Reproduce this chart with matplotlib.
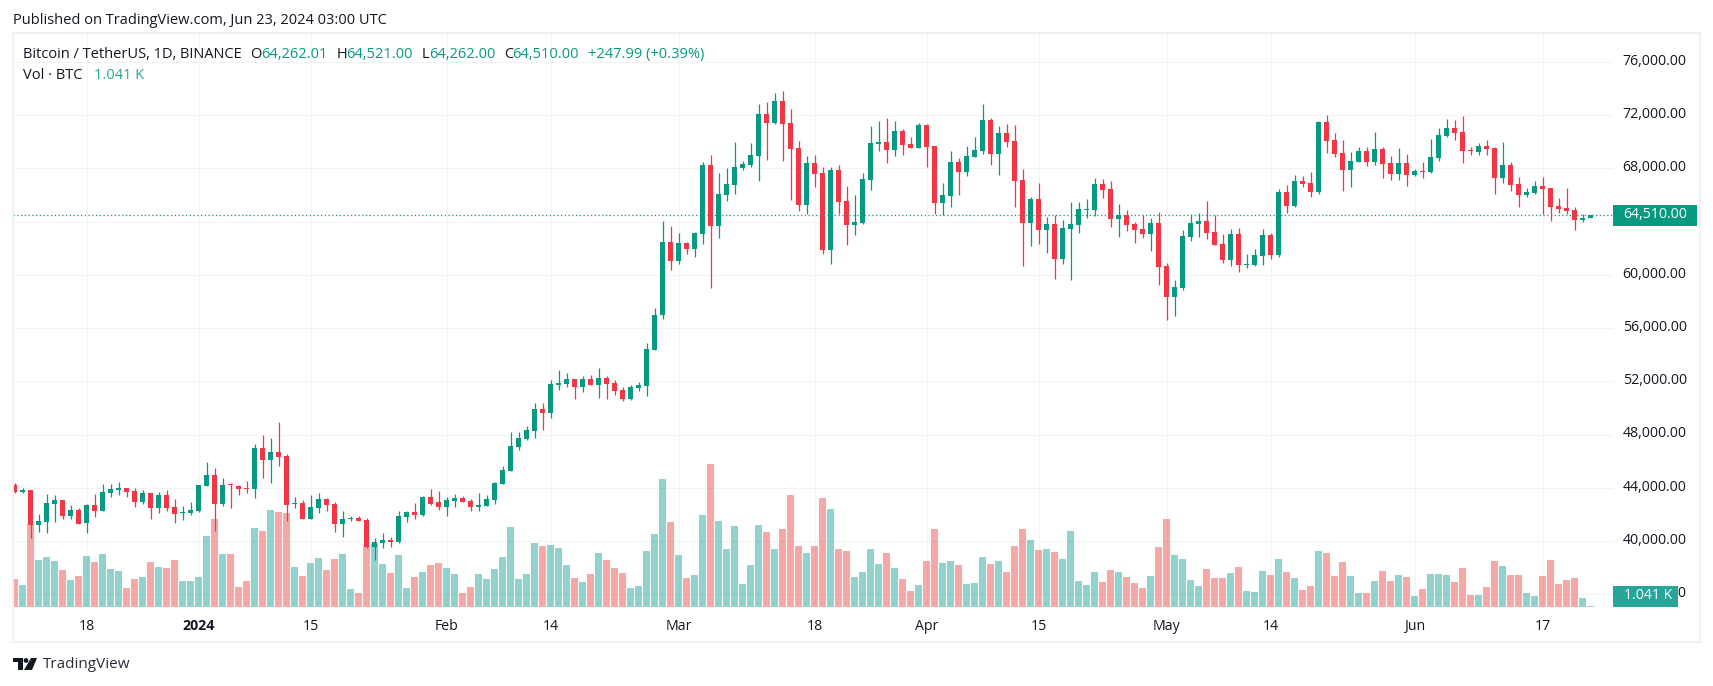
# BTC/USDT daily candles, TradingView style
import pandas as pd
import matplotlib
matplotlib.use("Agg")
import matplotlib.pyplot as plt
from matplotlib.patches import Rectangle, Circle, Polygon
from matplotlib.transforms import ScaledTranslation

W, H = 1713, 686
plt.rcParams['font.family'] = ['Open Sans', 'DejaVu Sans']

start = pd.Timestamp('2023-12-09')

opens = [44200,43700,43825,41200,41425,42775,43075,41875,42325,41350,
 42700,42250,43600,43825,43975,43750,42925,43600,42475,43450,
 42550,42100,42100,42250,44125,44950,42775,44275,44125,43975,
 43900,46975,46075,46675,46375,42775,42850,41650,42475,43150,
 42775,41275,41650,41725,41575,39550,39850,40075,39925,41800,
 42175,41950,43300,42925,42550,43000,43225,43000,42550,42625,
 43075,44275,45250,47050,47650,48250,49900,49600,51700,51775,
 52150,51550,52150,51700,52225,51850,51325,50650,51475,51625,
 54400,57000,62475,61050,62400,61950,63075,68250,63675,66000,
 66750,68025,68250,68925,72075,71400,73050,71400,69525,65250,
 68400,67650,61875,67875,65550,63750,63900,67125,69825,69975,
 69375,70800,69825,69525,71250,69675,65400,65925,68475,67725,
 68850,69300,71625,69075,70650,70050,67125,63900,65700,63375,
 63825,61200,63450,63750,64875,64875,66825,66450,64200,64500,
 63825,63450,63075,63900,60675,58350,59025,62850,63825,64050,
 63225,62325,61125,63075,60750,60750,61425,63000,61500,66225,
 65175,67050,66900,66225,71475,70125,69150,67875,68475,69300,
 68475,69450,68375,67550,68375,67475,67775,67700,68750,70475,
 71075,70775,69350,69200,69650,69500,67250,68225,66800,65975,
 66125,66650,66500,65150,65000,64850,64100,64262.01]
highs = [44350,44025,43825,42075,43525,43450,43075,42700,42475,42775,
 43525,44275,44275,44425,43975,43975,43825,43600,43675,43825,
 43150,42625,42925,44200,45925,45475,44725,44350,44200,44500,
 47275,47950,47725,48975,46525,43300,43075,43450,43600,43225,
 42925,42250,41875,41875,41725,40225,40600,40300,42250,42250,
 42850,43375,43900,43750,43300,43525,43375,43150,43600,43450,
 44425,45625,48175,48175,48625,50350,50350,52075,52825,52600,
 52150,52375,52450,52975,52375,52075,51550,51700,51925,54925,
 57550,64050,63675,63150,62475,63225,68475,69000,67650,68025,
 69975,68550,69900,72825,72975,73650,73800,72450,70050,68925,
 69000,68100,68100,68250,66675,66000,67650,71175,71550,71775,
 71550,70950,70350,71400,71325,69675,66900,69300,68775,69675,
 70350,72825,71775,71175,71325,71250,67950,65850,66900,64350,
 64500,64125,65475,65475,65700,67275,67200,67050,65325,64875,
 63975,64500,64275,64725,60900,59625,63375,64575,64650,65550,
 64500,63075,63450,63525,61575,61950,63450,63150,66450,66750,
 67500,67425,67725,71550,72000,70650,70125,69225,69600,69600,
 70725,69600,68900,69500,69050,67925,68450,70250,71075,71750,
 71675,71975,69575,69875,70175,69575,69950,68450,67325,66500,
 67025,67325,66500,65750,66500,65075,64550,64521]
lows = [43600,43600,40225,40675,40600,41425,41650,41650,41275,40600,
 41800,42250,43300,43450,43300,42550,42775,41650,42100,42250,
 41350,41575,41950,42175,44125,40750,42625,42475,43450,43600,
 43225,44725,44350,45625,41500,42475,41650,41650,42100,42250,
 40675,40300,41500,41500,39475,38575,39475,39550,39850,41425,
 41650,41875,42700,42325,41875,42550,42925,42250,42250,42625,
 42775,44275,45250,46825,47575,47725,48325,49225,51325,51550,
 50650,51175,51700,50725,50650,50950,50500,50575,51250,50875,
 54400,56700,60375,60825,61575,61350,62325,59025,62775,65550,
 66075,67875,68100,67050,68625,71325,68550,65625,64800,64575,
 66600,61575,60825,64575,62250,63000,63825,66375,69300,68400,
 68925,69000,69525,69525,68100,64575,64500,65100,66000,67425,
 68850,69075,68250,67500,69600,65100,60675,62175,62325,61650,
 59700,60825,59625,63150,64275,64425,65775,63600,62850,63300,
 62400,62775,61800,59250,56625,56925,58875,62550,62850,62700,
 62250,60900,60675,60225,60525,60675,60750,61200,61350,64650,
 65100,66600,65850,66075,69150,68850,66300,66600,68475,68175,
 68250,67275,67100,67100,66650,67400,67250,67625,68525,70400,
 70100,68375,68975,68975,68975,66050,66875,66275,65075,65825,
 66050,64550,64025,64625,64550,63350,63950,64262]
closes = [43675,43825,41225,41500,42850,43075,41875,42325,41325,42700,
 42250,43675,43900,43975,43675,42925,43600,42475,43450,42475,
 42025,42175,42325,44200,44950,42775,44200,44200,43900,43900,
 46975,46075,46675,46300,42700,42850,41650,42550,43150,42700,
 41275,41650,41725,41500,39550,39925,40075,39925,41875,42175,
 41950,43300,42775,42550,43075,43225,42925,42550,42700,43150,
 44350,45325,47125,47725,48325,49900,49600,51775,51850,52150,
 51550,52150,51700,52225,51775,51250,50650,51550,51700,54475,
 57025,62475,61050,62400,61950,63150,68250,63675,66075,66825,
 68100,68325,69000,72075,71400,73050,71325,69450,65250,68400,
 67575,61875,67875,65475,63750,63975,67200,69900,69975,69375,
 70800,69750,69525,71250,69600,65400,66000,68475,67725,68925,
 69375,71625,69075,70650,69975,67050,63900,65700,63375,63825,
 61200,63525,63825,64950,64950,66825,66375,64200,64500,63750,
 63375,63075,63900,60600,58350,59100,62925,63900,64050,63150,
 62250,61125,63075,60750,60825,61500,63000,61500,66225,65175,
 67050,66825,66225,71475,70050,69075,67875,68550,69300,68475,
 69450,68325,67550,68375,67475,67775,67700,68825,70550,71075,
 70700,69275,69275,69650,69425,67250,68225,66725,65975,66200,
 66650,66425,65075,64925,64775,64100,64250,64510]
volumes = [21,16.5,62.25,35.25,37.5,34.5,27.75,20.25,23.25,38.25,
 33.75,39.75,28.5,27,14.25,21,22.5,33.75,30,29.25,
 35.25,19.5,19.5,22.5,53.25,66,39.75,39.75,15,19.5,
 59.25,57,72.75,71.25,70.5,30,23.25,33,36.75,27.75,
 36,39.75,13.5,10.5,45.75,47.25,32.25,25.5,39,14.25,
 22.5,26.25,31.5,32.75,29,24.5,10.25,14.75,24.5,20.75,
 28.25,37.25,59.75,20.75,24.5,47.75,45.5,46.25,44,31.25,
 21.5,18.5,24.5,40.25,35,29,25.25,14,15.5,41.75,
 54.5,95.75,63.5,38.75,21.5,23.75,68.75,107,64.25,43.25,
 60.5,17,31.25,61.25,56,43.25,58.25,83.75,45.5,40.25,
 45.5,81.5,73.25,43.25,41.75,22.25,26.25,43.5,32.25,40.5,
 29.25,21,12,16.5,34.5,58.5,33,34.5,31.5,17.25,
 18,37.5,32.25,34.5,26.25,45.75,58.5,50.25,42.75,43.5,
 41.25,36,57,19.5,16.5,26.25,18.75,27.75,26.25,22.5,
 18,14.25,23.25,45,66,39,36,20.25,15.75,28.5,
 21.75,21.75,25.5,30,12,11.25,27,24,36,26.25,
 21.75,12.75,15.75,42,40.5,23.25,33.75,23.25,10.5,10.5,
 19.5,27,19.5,24,22.5,8.25,13.5,24.75,24.75,24,
 18.75,29.25,9,9,15,34.5,30.75,24,24,10.5,
 8.25,23.25,35.25,17.25,20.25,21.75,6.75,1.041]

tick_dates = ['2023-12-18','2024-01-01','2024-01-15','2024-02-01','2024-02-14','2024-03-01',
              '2024-03-18','2024-04-01','2024-04-15','2024-05-01','2024-05-14','2024-06-01','2024-06-17']
tick_labels = ['18','2024','15','Feb','14','Mar','18','Apr','15','May','14','Jun','17']
price_ticks = list(range(36000, 80000, 4000))
last_close = closes[-1]

UP, DOWN = '#089981', '#F23645'
VOL_UP, VOL_DOWN = '#26a69a', '#ef5350'
GRID = '#F2F3F5'
FRAME = '#F0F0F6'
TXT = '#131722'

fig = plt.figure(figsize=(W / 100, H / 100), dpi=100, facecolor='white')
ax = fig.add_axes([13 / W, (H - 607) / H, 1600 / W, 574 / H])
ymin, ymax = 35058, 78175
xs = list(range(len(closes)))
ax.set_xlim(-0.2125, 199.79)
ax.set_ylim(ymin, ymax)

# volume sits on the same axes, scaled into the price range
vol_scale = (ymax - ymin) / 430.5
ax.bar(xs, [v * vol_scale for v in volumes], bottom=ymin, width=0.875, alpha=0.5, linewidth=0,
       color=[VOL_UP if c >= o else VOL_DOWN for o, c in zip(opens, closes)], zorder=2)

colors = [UP if c >= o else DOWN for o, c in zip(opens, closes)]
ax.vlines(xs, lows, highs, colors=colors, linewidth=0.9, zorder=3)
ax.bar(xs, [abs(c - o) for o, c in zip(opens, closes)], bottom=[min(o, c) for o, c in zip(opens, closes)],
       width=0.625, color=colors, linewidth=0, zorder=4)
ax.axhline(last_close, color=UP, linewidth=0.9, linestyle=(0, (1, 2)), zorder=5)

ax.set_xticks([(pd.Timestamp(d) - start).days for d in tick_dates])
ax.set_xticklabels(tick_labels)
ax.set_yticks(price_ticks)
ax.set_yticklabels([f'{p:,.2f}' for p in price_ticks])
ax.yaxis.tick_right()
ax.tick_params(axis='both', length=0, labelcolor=TXT, labelsize=10.2)
ax.tick_params(axis='y', pad=7)
ax.tick_params(axis='x', pad=8.5)
ax.get_xticklabels()[1].set_fontweight('bold')
# y labels sit a touch above their gridline
up_shift = ScaledTranslation(0, 2 / 72, fig.dpi_scale_trans)
for lbl in ax.get_yticklabels():
    lbl.set_transform(lbl.get_transform() + up_shift)
ax.grid(True, color=GRID, linewidth=0.8)
ax.set_axisbelow(True)
for s in ax.spines.values():
    s.set_visible(False)

# page furniture in pixel coordinates
ov = fig.add_axes([0, 0, 1, 1], zorder=10)
ov.set_xlim(0, W)
ov.set_ylim(H, 0)
ov.axis('off')
ov.add_patch(Rectangle((12.5, 33), 1687.5, 609, fill=False, edgecolor=FRAME, linewidth=1.5))

TOP_FS = 10.5
ov.text(13, 21, 'Published on TradingView.com, Jun 23, 2024 03:00 UTC', color=TXT, fontsize=TOP_FS, va='center')
ov.text(23, 54.5, 'Bitcoin / TetherUS, 1D, BINANCE', color=TXT, fontsize=TOP_FS, va='center')
ov.text(23, 75.5, 'Vol · BTC', color=TXT, fontsize=TOP_FS, va='center')
ov.text(93.5, 75.5, '1.041 K', color=VOL_UP, fontsize=TOP_FS, va='center')
for x, s, col in [(250.5, 'O', TXT), (261, f'{opens[-1]:,.2f}', UP), (336.5, 'H', TXT), (346, f'{highs[-1]:,.2f}', UP),
                  (421.5, 'L', TXT), (429, f'{lows[-1]:,.2f}', UP), (504, 'C', TXT), (512.5, f'{closes[-1]:,.2f}', UP),
                  (588, '+247.99 (+0.39%)', UP)]:
    ov.text(x, 54.5, s, color=col, fontsize=TOP_FS, va='center')

# last value tags
ov.add_patch(Rectangle((1613, 205), 84, 21, color=UP, linewidth=0))
ov.text(1623, 214, f'{last_close:,.2f}', color='white', fontsize=10.2, va='center')
ov.add_patch(Rectangle((1613, 586), 65, 21, color=VOL_UP, linewidth=0))
ov.text(1624, 595.5, '1.041 K', color='white', fontsize=10.2, va='center')

# logo
ink = '#131722'
ov.add_patch(Polygon([(13, 658), (23, 658), (23, 670), (18, 670), (18, 662), (13, 662)], color=ink, linewidth=0))
ov.add_patch(Circle((26, 660.5), 2.4, color=ink, linewidth=0))
ov.add_patch(Polygon([(31, 658), (37, 658), (32, 670), (24, 670)], color=ink, linewidth=0))
ov.text(43, 664.5, 'TradingView', color='#2a2e39', fontsize=11, va='center')

fig.savefig('out.png', dpi=100)
